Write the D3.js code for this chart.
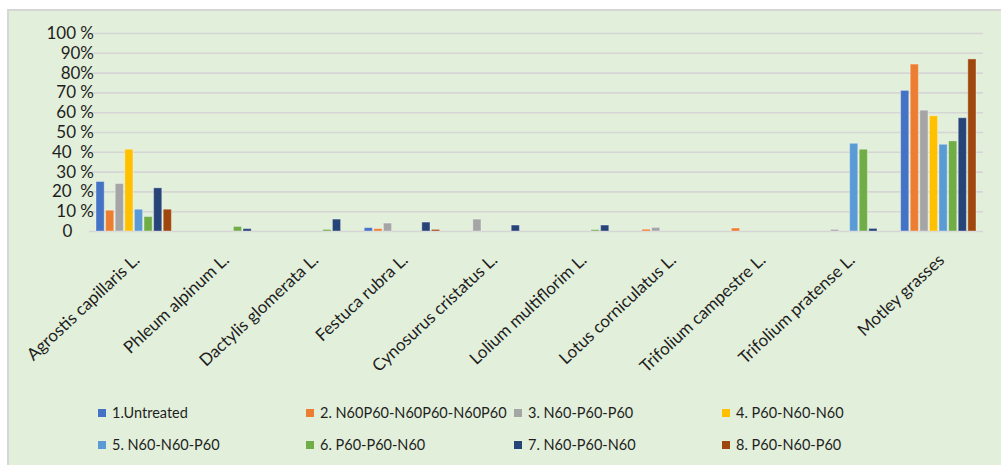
<!DOCTYPE html>
<html>
<head>
<meta charset="utf-8">
<script src="https://cdn.jsdelivr.net/npm/d3@7"></script>
<style>
  html, body { margin: 0; padding: 0; background: #ffffff; }
  svg { display: block; }
  text { font-family: Lato, "Open Sans", sans-serif; fill: #1e1e1e; }
</style>
</head>
<body>
<svg id="chart" width="1001" height="465"></svg>
<script>
// Species groups along the x axis
const categories = [
  "Agrostis capillaris L.", "Phleum alpinum L.", "Dactylis glomerata L.",
  "Festuca rubra L.", "Cynosurus cristatus L.", "Lolium multiflorim L.",
  "Lotus corniculatus L.", "Trifolium campestre L.", "Trifolium pratense L.",
  "Motley grasses"
];

// Treatment names (legend)
const seriesNames = [
  "1.Untreated", "2. N60P60-N60P60-N60P60", "3. N60-P60-P60", "4. P60-N60-N60",
  "5. N60-N60-P60", "6. P60-P60-N60", "7. N60-P60-N60", "8. P60-N60-P60"
];

const seriesColors = [
  "#4472c4", "#ed7d31", "#a5a5a5", "#ffc000",
  "#5b9bd5", "#70ad47", "#264478", "#9e480e"
];

// Share of each species (%), one array per treatment, in category order
const untreated   = [25.0, 0,   0,   1.7, 0,   0,   0,   0,   0,    71.0];
const n60p60x3    = [10.5, 0,   0,   1.2, 0,   0,   0.9, 1.5, 0,    84.3];
const n60p60p60   = [24.0, 0,   0,   4.0, 6.0, 0,   1.8, 0,   0.8,  61.0];
const p60n60n60   = [41.3, 0,   0,   0,   0,   0,   0,   0,   0,    58.2];
const n60n60p60   = [11.0, 0,   0,   0,   0,   0,   0,   0,   44.3, 43.8];
const p60p60n60   = [7.3,  2.3, 0.8, 0,   0,   0.7, 0,   0,   41.3, 45.5];
const n60p60n60   = [21.8, 1.2, 6.0, 4.5, 3.0, 3.0, 0,   0,   1.3,  57.2];
const p60n60p60   = [11.0, 0,   0,   0.8, 0,   0,   0,   0,   0,    86.9];

const seriesValues = [untreated, n60p60x3, n60p60p60, p60n60n60,
                      n60n60p60, p60p60n60, n60p60n60, p60n60p60];

// Y axis ticks and their labels
const yTicks = [0, 10, 20, 30, 40, 50, 60, 70, 80, 90, 100];
const yTickLabels = ["0     ", "10 %", "20  %", "30 %", "40  %", "50 %",
                     "60 %", "70 %", "80%", "90%", "100 %"];

const svg = d3.select("#chart");

// chart panel
svg.append("rect")
  .attr("x", 8).attr("y", 10)
  .attr("width", 1000).attr("height", 460)
  .attr("fill", "#e2efda")
  .attr("stroke", "#d6d6d6")
  .attr("stroke-width", 2);

const plotLeft = 89, plotRight = 983, plotTop = 33, plotBottom = 231;

const x0 = d3.scaleBand()
  .domain(categories)
  .range([plotLeft, plotRight])
  .paddingInner(0.157)
  .paddingOuter(0.0785);

const x1 = d3.scaleBand()
  .domain(d3.range(seriesNames.length))
  .range([0, x0.bandwidth()])
  .paddingInner(0.15);

const y = d3.scaleLinear().domain([0, 100]).range([plotBottom, plotTop]);

// horizontal gridlines
const grid = svg.append("g")
  .attr("transform", `translate(${plotLeft},0)`)
  .call(d3.axisLeft(y).tickValues(yTicks).tickSize(-(plotRight - plotLeft)).tickFormat(""));
grid.select(".domain").remove();
grid.selectAll(".tick line").attr("stroke", "#d5d5d5").attr("stroke-width", 1.6);

// y axis labels
const yAxis = svg.append("g")
  .attr("transform", "translate(94,0)")
  .call(d3.axisLeft(y).tickValues(yTicks).tickSize(0).tickPadding(0)
    .tickFormat((d, i) => yTickLabels[i]));
yAxis.select(".domain").remove();
yAxis.selectAll("text")
  .attr("font-family", "Lato, sans-serif")
  .style("font-size", "17px")
  .style("white-space", "pre")
  .attr("fill", "#1e1e1e");

// bars
const groups = svg.append("g")
  .selectAll("g")
  .data(categories)
  .join("g")
  .attr("transform", d => `translate(${x0(d)},0)`);

groups.selectAll("rect")
  .data((c, ci) => seriesValues.map((vals, si) => ({ si, v: vals[ci] })))
  .join("rect")
  .filter(d => d.v > 0)
  .attr("x", d => x1(d.si))
  .attr("width", x1.bandwidth())
  .attr("y", d => y(d.v))
  .attr("height", d => y(0) - y(d.v))
  .attr("fill", d => seriesColors[d.si])
  .attr("stroke", "rgba(255,255,255,0.35)")
  .attr("stroke-width", 1);

// rotated category labels
svg.append("g")
  .selectAll("text")
  .data(categories)
  .join("text")
  .attr("transform", d => `translate(${x0(d) + x0.bandwidth() / 2 + 3},257) rotate(-43)`)
  .attr("text-anchor", "end")
  .attr("dy", "0.35em")
  .style("font-size", "17px")
  .text(d => d);

// legend: four columns, two rows
const legend = svg.append("g")
  .selectAll("g")
  .data(seriesNames)
  .join("g")
  .attr("transform", (d, i) => `translate(${98 + (i % 4) * 208},${413 + Math.floor(i / 4) * 32})`);

legend.append("rect")
  .attr("x", 0).attr("y", -4)
  .attr("width", 8).attr("height", 8)
  .attr("fill", (d, i) => seriesColors[i]);

legend.append("text")
  .attr("x", 14)
  .attr("dy", "0.36em")
  .style("font-size", "14.5px")
  .text(d => d);
</script>
</body>
</html>
